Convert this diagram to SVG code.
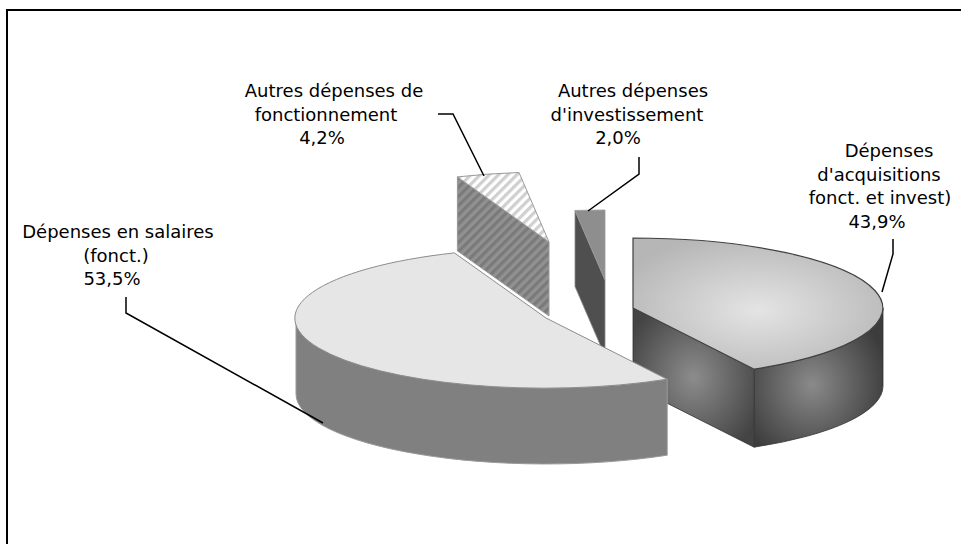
<svg xmlns="http://www.w3.org/2000/svg" width="961" height="544" viewBox="0 0 961 544">
<style>
.lbl{font-family:"DejaVu Sans","Verdana",sans-serif;font-size:18px;fill:#000;text-anchor:middle}
.lead{fill:none;stroke:#000;stroke-width:1.5}
</style>
<defs>
<pattern id="hatchW" patternUnits="userSpaceOnUse" width="6.5" height="6.5" patternTransform="rotate(45)"><rect width="6.5" height="6.5" fill="#ffffff"/><rect width="3.2" height="6.5" fill="#cfcfcf"/></pattern>
<pattern id="hatchD" patternUnits="userSpaceOnUse" width="6.5" height="6.5" patternTransform="rotate(45)"><rect width="6.5" height="6.5" fill="#919191"/><rect width="3.2" height="6.5" fill="#7a7a7a"/></pattern>
<radialGradient id="gAcqTop" cx="0.5" cy="0.55" r="0.6"><stop offset="0" stop-color="#e4e4e4"/><stop offset="1" stop-color="#b6b6b6"/></radialGradient>
<radialGradient id="gAcqCut" cx="0.5" cy="0.5" r="0.6"><stop offset="0" stop-color="#8c8c8c"/><stop offset="1" stop-color="#444444"/></radialGradient>
<radialGradient id="gAcqWall" cx="0.45" cy="0.55" r="0.6"><stop offset="0" stop-color="#8a8a8a"/><stop offset="1" stop-color="#3c3c3c"/></radialGradient>
</defs>
<rect x="0" y="0" width="961" height="544" fill="#ffffff"/>
<rect x="7" y="10" width="1000" height="600" fill="none" stroke="#000" stroke-width="2"/>

<g id="slice-fonct">
<path d="M549,242 L457.4,176.9 L457.4,250.9 L549,316 Z" fill="url(#hatchD)" stroke="#9a9a9a" stroke-width="1"/>
<path d="M549,242 L457.4,176.9 A250,70 0 0 1 519,172.5 Z" fill="url(#hatchW)" stroke="#9a9a9a" stroke-width="1"/>
</g>

<g id="slice-invest">
<path d="M605,280 L575,210.5 L575,286.5 L605,356 Z" fill="#4f4f4f" stroke="#8a8a8a" stroke-width="0.8"/>
<path d="M605,280 L575,210.5 A250,70 0 0 1 605,210 Z" fill="#8e8e8e" stroke="#9a9a9a" stroke-width="0.8"/>
</g>

<g id="slice-acquisitions">
<path d="M754.2,369.2 A250,70 0 0 0 883,308 L883,386 A250,70 0 0 1 754.2,447.2 Z" fill="url(#gAcqWall)" stroke="#333" stroke-width="0.8"/>
<path d="M633,308 L754.2,369.2 L754.2,447.2 L633,386 Z" fill="url(#gAcqCut)" stroke="#333" stroke-width="0.8"/>
<path d="M633,308 L633,238 A250,70 0 0 1 754.2,369.2 Z" fill="url(#gAcqTop)" stroke="#404040" stroke-width="1.2"/>
</g>

<g id="slice-salaires">
<path d="M296,318 A250,70 0 0 0 667.2,379.2 L667.2,455.2 A250,70 0 0 1 296,394 Z" fill="#808080" stroke="#9a9a9a" stroke-width="1"/>
<path d="M546,318 L454.4,252.9 A250,70 0 1 0 667.2,379.2 Z" fill="#e6e6e6" stroke="#8c8c8c" stroke-width="1"/>
</g>

<g id="connectors">
<polyline class="lead" points="438,114 453,114 484,176"/>
<polyline class="lead" points="639,157 639,174 588,211"/>
<polyline class="lead" points="126,297 126,313 323,423"/>
<polyline class="lead" points="893,239 893,254 882,292"/>
</g>

<g id="label-fonct">
<text class="lbl" x="334" y="97">Autres dépenses de</text>
<text class="lbl" x="326" y="120.5">fonctionnement</text>
<text class="lbl" x="322" y="144">4,2%</text>
</g>
<g id="label-invest">
<text class="lbl" x="633" y="97">Autres dépenses</text>
<text class="lbl" x="627" y="120.5">d'investissement</text>
<text class="lbl" x="618" y="144">2,0%</text>
</g>
<g id="label-salaires">
<text class="lbl" x="118" y="238">Dépenses en salaires</text>
<text class="lbl" x="116" y="261.5">(fonct.)</text>
<text class="lbl" x="112" y="285">53,5%</text>
</g>
<g id="label-acquisitions">
<text class="lbl" x="889" y="157">Dépenses</text>
<text class="lbl" x="879" y="180.5">d'acquisitions</text>
<text class="lbl" x="880" y="204">fonct. et invest)</text>
<text class="lbl" x="877" y="227.5">43,9%</text>
</g>
</svg>
